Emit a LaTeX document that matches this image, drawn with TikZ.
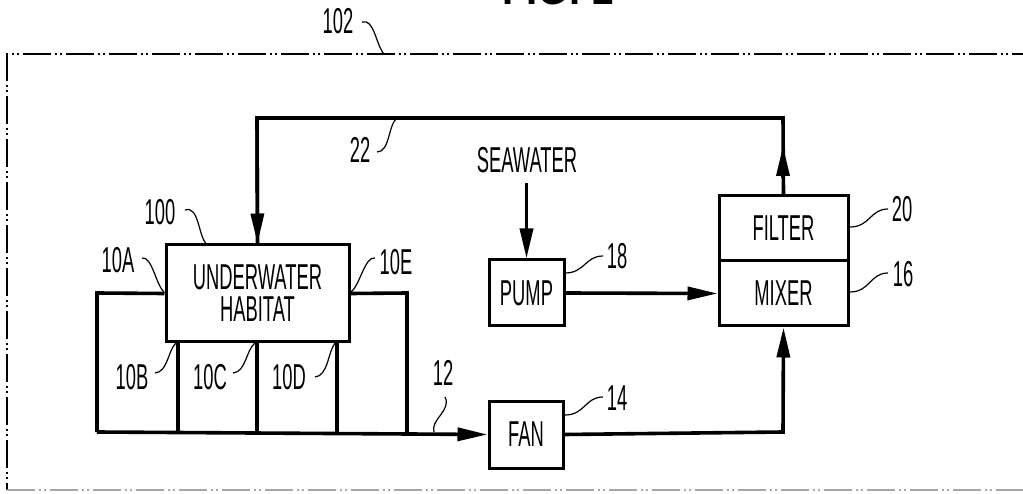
\documentclass[tikz,border=0pt]{standalone}
\usepackage{fontspec}
\setmainfont{Liberation Sans}[FakeStretch=0.51]
\newfontfamily\figfont{Liberation Sans}[FakeStretch=0.8]
\usetikzlibrary{arrows.meta}
\begin{document}
\begin{tikzpicture}[x=1pt,y=-1pt,
  every node/.style={font=\fontsize{36}{36}\selectfont, inner sep=0pt},
  blk/.style={draw, line width=3pt, align=center},
  pipe/.style={line width=3.6pt},
  flow/.style={pipe, -{Triangle[length=30pt,width=13pt]}},
  lead/.style={line width=1.2pt},
  frame/.style={line width=1.4pt, dash pattern=on 28pt off 4pt on 2pt off 3pt on 2pt off 4pt}
]
\useasboundingbox (0,0) rectangle (1023,494);
% frame
\draw[frame] (1040,54) -- (7,54) -- (7,490);
\draw[frame, gray!70] (7,490) -- (1040,490);
\node[font=\figfont\bfseries\fontsize{50}{50}\selectfont, anchor=base] (fig) at (558,5) {FIG. 1};
% blocks
\node[blk, minimum width=183pt, minimum height=97pt] (hab) at (257.5,293.5) {UNDERWATER\\[-4pt]HABITAT};
\node[blk, minimum width=75pt, minimum height=66pt] (pump) at (526.5,293) {PUMP};
\node[blk, minimum width=74pt, minimum height=67pt] (fan) at (526,434.5) {FAN};
\node[blk, minimum width=129pt, minimum height=65pt] (filter) at (783.5,228.5) {FILTER};
\node[blk, minimum width=129pt, minimum height=65pt] (mixer) at (783.5,293.5) {MIXER};
\node (sea) at (527,160) {SEAWATER};
% coordinates
\coordinate (lt) at (97,293);
\coordinate (lb) at (97,432);
\coordinate (rt) at (407,293);
\coordinate (rb) at (407,432);
\coordinate (b1) at (178,342);
\coordinate (b1e) at (178,432);
\coordinate (b2) at (257,342);
\coordinate (b2e) at (257,432);
\coordinate (b3) at (337,342);
\coordinate (b3e) at (337,432);
\coordinate (fm) at (783,432);
\coordinate (tr) at (783,118);
\coordinate (tl) at (257,118);
\coordinate (sa) at (526.5,183);
\coordinate (fa1) at (783,178);
\coordinate (fa2) at (783,148);
% pipes
\draw[pipe] (hab.west) -- (lt) -- (lb);
\draw[pipe] (hab.east) -- (rt) -- (rb);
\draw[pipe] (b1) -- (b1e);
\draw[pipe] (b2) -- (b2e);
\draw[pipe] (b3) -- (b3e);
\draw[flow] (lb) -- (fan.west);
\draw[flow] (fan.east) -- (fm) -- (mixer.south);
\draw[flow] (pump.east) -- (mixer.west);
\draw[flow] (sa) -- (pump.north);
\draw[pipe] (filter.north) -- (tr) -- (tl) -- (hab.north);
\draw[flow] (tl) -- (hab.north);
\draw[flow, shorten >=-2pt] (fa1) -- (fa2);
% labels
\node (l102) at (338,21) {102};
\node (l100) at (160,212) {100};
\node (l10A) at (118,260) {10A};
\node (l10E) at (396,262) {10E};
\node (l10B) at (132,377) {10B};
\node (l10C) at (210,377) {10C};
\node (l10D) at (289,377) {10D};
\node (l22) at (360,150) {22};
\node (l18) at (617,256) {18};
\node (l14) at (617,398) {14};
\node (l12) at (443,373) {12};
\node (l20) at (902,209) {20};
\node (l16) at (903,274) {16};
% leaders
\draw[lead] (362,22) .. controls (374,18) and (376,45) .. (384,54);
\draw[lead] (185,210) .. controls (200,205) and (198,240) .. (208,245);
\draw[lead] (142,258) .. controls (152,256) and (156,285) .. (164,292);
\draw[lead] (375,258) .. controls (365,256) and (360,285) .. (351,292);
\draw[lead] (155,373) .. controls (168,372) and (168,350) .. (176,343);
\draw[lead] (233,373) .. controls (246,372) and (246,350) .. (255,343);
\draw[lead] (315,377) .. controls (328,376) and (328,352) .. (335,343);
\draw[lead] (377,152) .. controls (390,152) and (388,125) .. (397,118);
\draw[lead] (565,273) .. controls (585,273) and (585,256) .. (603,256);
\draw[lead] (565,415) .. controls (585,415) and (585,397) .. (603,397);
\draw[lead] (445,397) .. controls (452,410) and (430,420) .. (434,432);
\draw[lead] (850,227) .. controls (870,227) and (870,209) .. (888,209);
\draw[lead] (850,292) .. controls (870,292) and (870,273) .. (888,273);
\end{tikzpicture}
\end{document}
